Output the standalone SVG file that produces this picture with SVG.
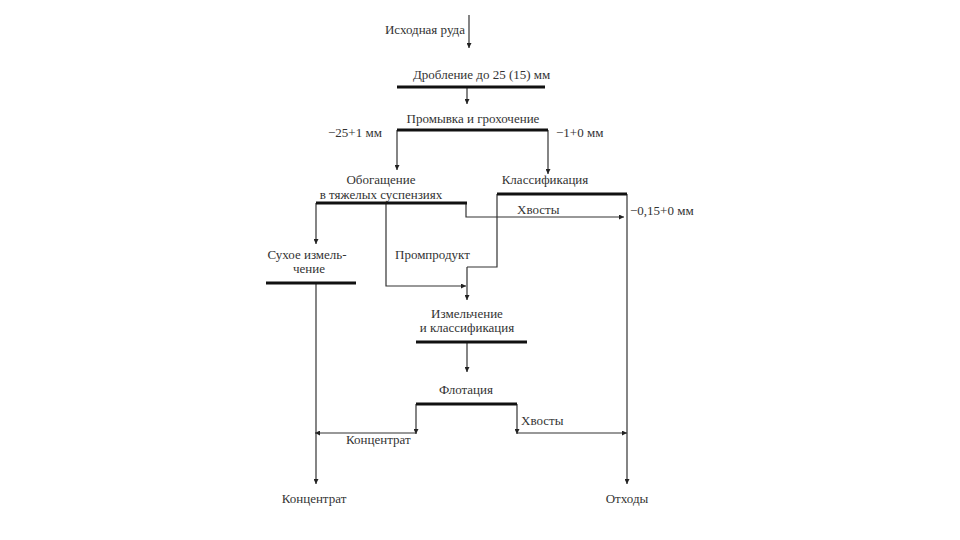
<svg xmlns="http://www.w3.org/2000/svg" width="960" height="540" viewBox="0 0 960 540">
<defs>
<marker id="ar" viewBox="0 0 10 10" refX="10" refY="5" markerWidth="5" markerHeight="5" orient="auto" markerUnits="userSpaceOnUse">
<path d="M0,0 L10,5 L0,10 z" fill="#222"/>
</marker>
</defs>
<style>
text{font-family:"Liberation Serif","Times New Roman",serif;font-size:13px;fill:#333}
.bar{stroke:#111;stroke-width:3;fill:none}
.ln{stroke:#333;stroke-width:1.2;fill:none}
.arr{stroke:#333;stroke-width:1.2;fill:none;marker-end:url(#ar)}
</style>
<rect width="960" height="540" fill="#fff"/>
<g id="connectors">
<path class="arr" d="M469,15 V48"/>
<path class="arr" d="M467,87 V104"/>
<path class="arr" d="M397,130 V170"/>
<path class="arr" d="M548,130 V174"/>
<path class="arr" d="M316,203 V244"/>
<path class="arr" d="M386,203 V286 H466"/>
<path class="arr" d="M466,203 V217 H624"/>
<path class="ln" d="M497,194 V267 H467"/>
<path class="arr" d="M467,267 V300"/>
<path class="arr" d="M467,342 V372"/>
<path class="arr" d="M416,404 V434"/>
<path class="arr" d="M416,433 H315"/>
<path class="arr" d="M517,404 V434"/>
<path class="arr" d="M517,433 H627"/>
<path class="arr" d="M316,283 V484"/>
<path class="arr" d="M627,194 V484"/>
</g>
<g id="n-ore"><text x="465" y="34" text-anchor="end">Исходная руда</text></g>
<g id="n-crush"><text x="413" y="79">Дробление до 25 (15) мм</text><path class="bar" d="M397,87 H545"/></g>
<g id="n-wash"><text x="473" y="123" text-anchor="middle">Промывка и грохочение</text><path class="bar" d="M397,130 H548"/>
<text x="328" y="137">−25+1 мм</text><text x="556" y="137">−1+0 мм</text></g>
<g id="n-hms"><text x="381" y="184" text-anchor="middle">Обогащение</text><text x="381" y="199" text-anchor="middle">в тяжелых суспензиях</text><path class="bar" d="M316,203 H467"/></g>
<g id="n-class"><text x="545" y="184" text-anchor="middle">Классификация</text><path class="bar" d="M497,194 H627"/></g>
<g id="l-tails1"><text x="517" y="214">Хвосты</text><text x="630" y="215">−0,15+0 мм</text></g>
<g id="l-mid"><text x="395" y="259">Промпродукт</text></g>
<g id="n-dry"><text x="307" y="259" text-anchor="middle">Сухое измель-</text><text x="309" y="273" text-anchor="middle">чение</text><path class="bar" d="M266,283 H356"/></g>
<g id="n-grind"><text x="467" y="318" text-anchor="middle">Измельчение</text><text x="467" y="332" text-anchor="middle">и классификация</text><path class="bar" d="M416,342 H527"/></g>
<g id="n-flot"><text x="466" y="394" text-anchor="middle">Флотация</text><path class="bar" d="M416,404 H517"/></g>
<g id="l-flot"><text x="521" y="425">Хвосты</text><text x="346" y="444">Концентрат</text></g>
<g id="n-conc"><text x="314" y="503" text-anchor="middle">Концентрат</text></g>
<g id="n-waste"><text x="627" y="503" text-anchor="middle">Отходы</text></g>
</svg>
